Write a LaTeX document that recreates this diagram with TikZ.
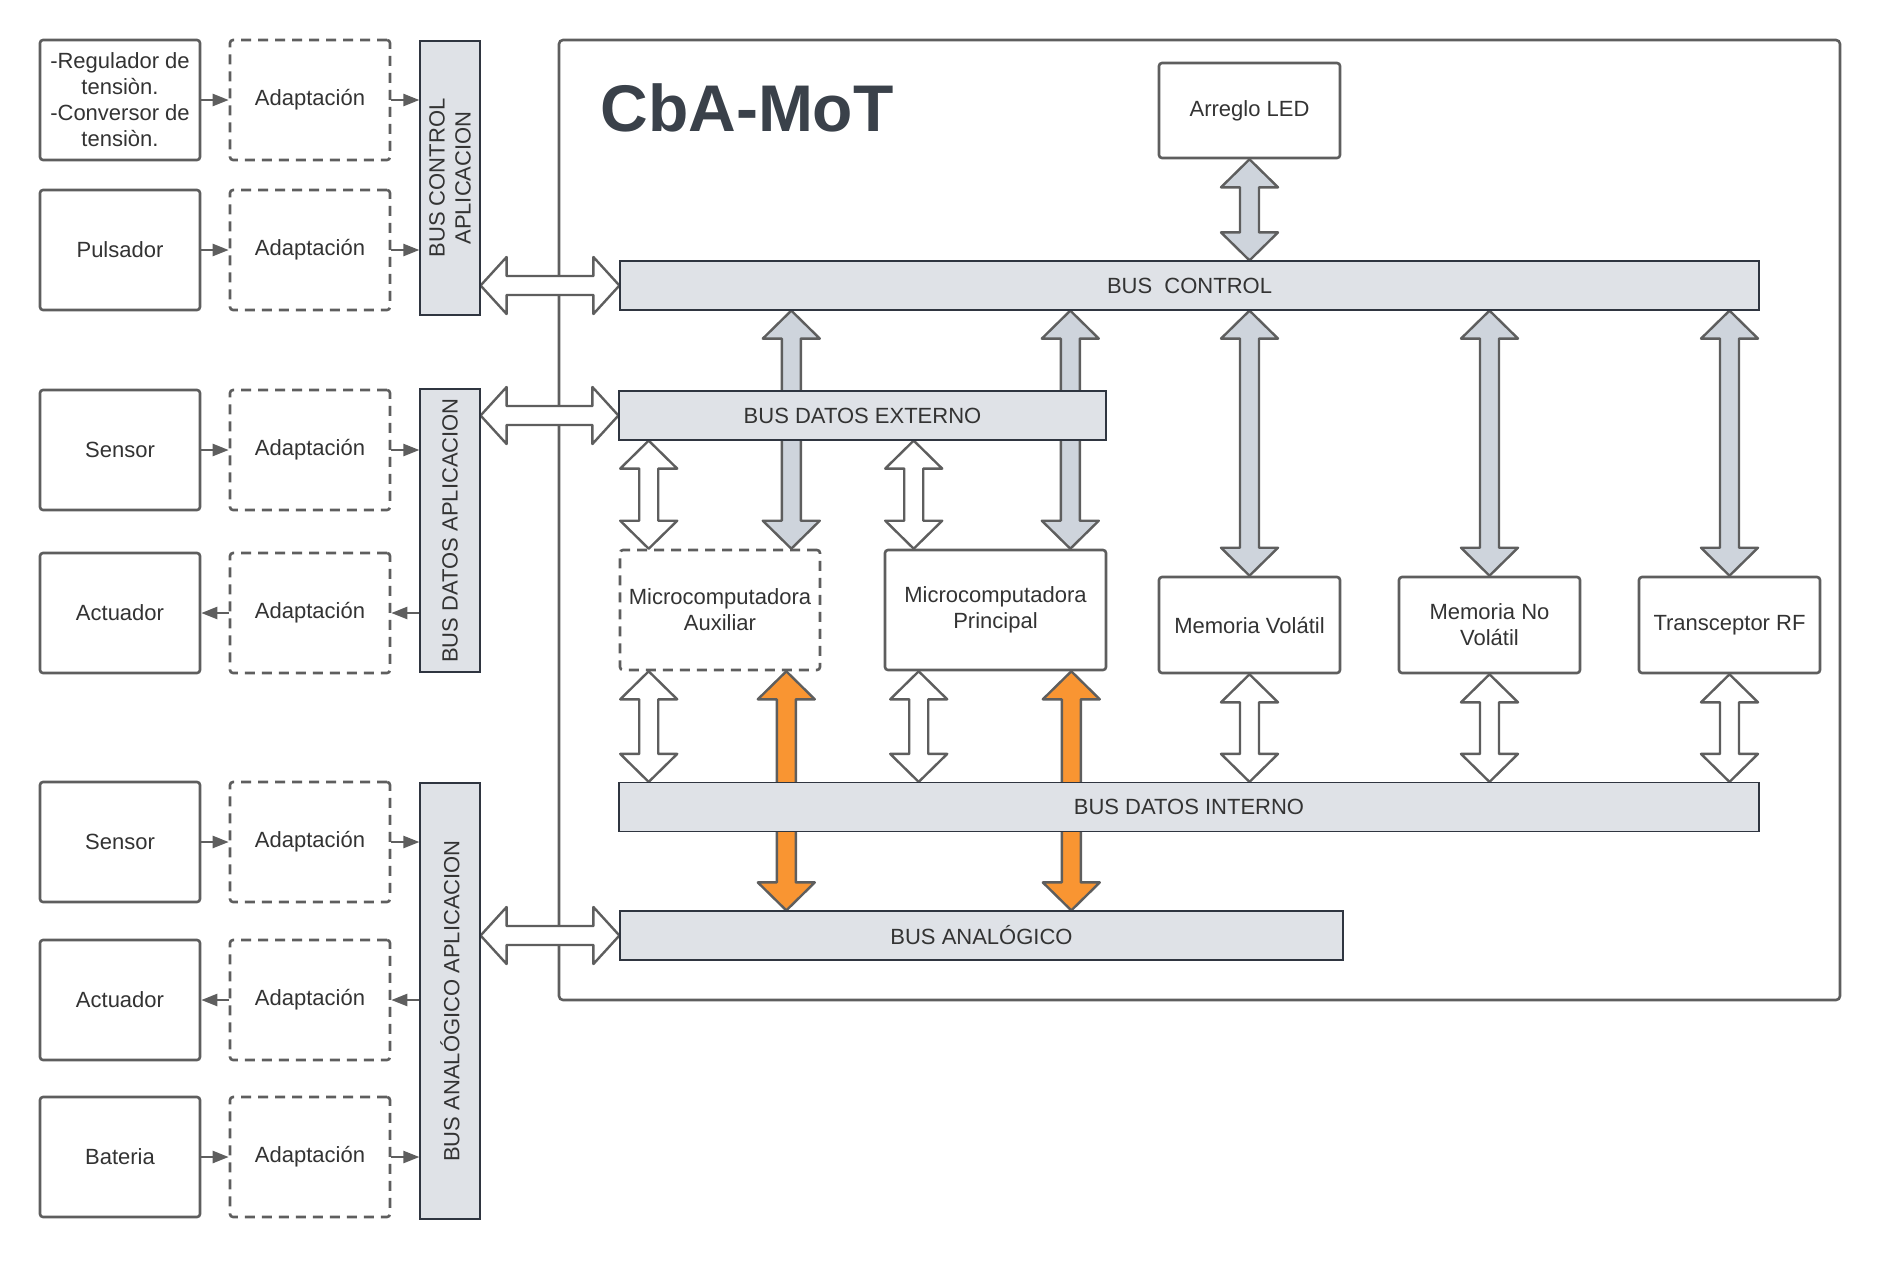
\documentclass[tikz,border=0pt]{standalone}
\usepackage{fontspec}
\setmainfont{Liberation Sans}
\usepackage{tikz}
\usetikzlibrary{arrows.meta,positioning,calc}
\usepackage{xcolor}
\definecolor{lineGrayColor}{HTML}{5E5E5E}
\definecolor{busFillColor}{HTML}{DFE2E7}
\definecolor{busLineColor}{HTML}{2F3540}
\definecolor{grayArrowColor}{HTML}{CED4DC}
\definecolor{orangeArrowColor}{HTML}{F99532}
\definecolor{titleColor}{HTML}{3A414A}
\definecolor{textColor}{HTML}{333333}
\pgfdeclarelayer{background}
\pgfsetlayers{background,main}
\tikzset{
  boxNode/.style = {align=center, inner sep=0pt, text centered, text=textColor,
    font=\fontsize{11}{13}\selectfont},
  deviceNode/.style = {boxNode, rectangle, rounded corners=1.5pt, draw=lineGrayColor, line width=1.3pt, fill=white, minimum width=80pt, minimum height=60pt},% dispositivo
  adaptNode/.style = {deviceNode, dash pattern=on 5pt off 3.5pt},% bloque punteado
  busNode/.style = {boxNode, rectangle, draw=busLineColor, line width=0.6pt, fill=busFillColor, minimum height=24.5pt},% bus horizontal
  vbusNode/.style = {busNode, minimum width=30pt},% bus vertical de aplicacion
  titleNode/.style = {inner sep=0pt, text=titleColor, font=\fontsize{33}{36}\selectfont\bfseries},
  smallArrow/.style = {draw=lineGrayColor, line width=1.2pt, ->},
  frameLine/.style = {draw=lineGrayColor, line width=1.3pt, rounded corners=2pt},
  blockArrow/.style = {draw=lineGrayColor, line width=1.2pt, line join=round},
  whiteArrow/.style = {blockArrow, fill=white},
  grayArrow/.style = {blockArrow, fill=grayArrowColor},
  orangeArrow/.style = {blockArrow, fill=orangeArrowColor},
}
% flecha de bloque vertical: estilo, referencia x, punta arriba, punta abajo
\newcommand{\vBusArrow}[4]{%
  \draw[#1] let \p1=(#2), \p2=(#3), \p3=(#4) in
    (\x1,\y2) -- (\x1+14.25pt,\y2-14pt) -- (\x1+4.75pt,\y2-14pt) -- (\x1+4.75pt,\y3+14pt)
    -- (\x1+14.25pt,\y3+14pt) -- (\x1,\y3) -- (\x1-14.25pt,\y3+14pt) -- (\x1-4.75pt,\y3+14pt)
    -- (\x1-4.75pt,\y2-14pt) -- (\x1-14.25pt,\y2-14pt) -- cycle;
}
% flecha de bloque horizontal: estilo, referencia y, punta izquierda, punta derecha
\newcommand{\hBusArrow}[4]{%
  \draw[#1] let \p1=(#2), \p2=(#3), \p3=(#4) in
    (\x2,\y1) -- (\x2+13pt,\y1+14.25pt) -- (\x2+13pt,\y1+4.75pt) -- (\x3-13pt,\y1+4.75pt)
    -- (\x3-13pt,\y1+14.25pt) -- (\x3,\y1) -- (\x3-13pt,\y1-14.25pt) -- (\x3-13pt,\y1-4.75pt)
    -- (\x2+13pt,\y1-4.75pt) -- (\x2+13pt,\y1-14.25pt) -- cycle;
}

\begin{document}
\begin{tikzpicture}[x=0.5pt, y=-0.5pt, >={Triangle[length=8pt,width=6pt]}]
\useasboundingbox (0,0) rectangle (1880,1260);

% entradas y salidas externas
\node [deviceNode] (reg) at (120,100) {-Regulador de\\tensiòn.\\-Conversor de\\tensiòn.};
\node [adaptNode, right=13.7pt of reg] (adReg) {Adaptación};
\node [deviceNode] (pul) at (120,250) {Pulsador};
\node [adaptNode, right=13.7pt of pul] (adPul) {Adaptación};
\node [deviceNode] (sen1) at (120,450) {Sensor};
\node [adaptNode, right=13.7pt of sen1] (adSen1) {Adaptación};
\node [deviceNode] (act1) at (120,613) {Actuador};
\node [adaptNode, right=13.7pt of act1] (adAct1) {Adaptación};
\node [deviceNode] (sen2) at (120,842) {Sensor};
\node [adaptNode, right=13.7pt of sen2] (adSen2) {Adaptación};
\node [deviceNode] (act2) at (120,1000) {Actuador};
\node [adaptNode, right=13.7pt of act2] (adAct2) {Adaptación};
\node [deviceNode] (bat) at (120,1157) {Bateria};
\node [adaptNode, right=13.7pt of bat] (adBat) {Adaptación};

% buses de aplicacion
\node [vbusNode, minimum height=137pt, label={[rotate=90, boxNode]center:BUS CONTROL\\APLICACION}] (ctlApl) at (450,178) {};
\node [vbusNode, minimum height=141.5pt, label={[rotate=90, boxNode]center:BUS DATOS APLICACION}] (datApl) at (450,530.5) {};
\node [vbusNode, minimum height=218pt, label={[rotate=90, boxNode]center:BUS ANALÓGICO APLICACION}] (anaApl) at (450,1001) {};

\draw[smallArrow] (reg.east) -- (adReg.west);
\draw[smallArrow] (adReg.east) -- (ctlApl.west |- adReg.east);
\draw[smallArrow] (pul.east) -- (adPul.west);
\draw[smallArrow] (adPul.east) -- (ctlApl.west |- adPul.east);
\draw[smallArrow] (sen1.east) -- (adSen1.west);
\draw[smallArrow] (adSen1.east) -- (datApl.west |- adSen1.east);
\draw[smallArrow] (datApl.west |- adAct1.east) -- (adAct1.east);
\draw[smallArrow] (adAct1.west) -- (act1.east);
\draw[smallArrow] (sen2.east) -- (adSen2.west);
\draw[smallArrow] (adSen2.east) -- (anaApl.west |- adSen2.east);
\draw[smallArrow] (anaApl.west |- adAct2.east) -- (adAct2.east);
\draw[smallArrow] (adAct2.west) -- (act2.east);
\draw[smallArrow] (bat.east) -- (adBat.west);
\draw[smallArrow] (adBat.east) -- (anaApl.west |- adBat.east);

% placa CbA-MoT
\node [titleNode, anchor=base west] (title) at (600,131) {CbA-MoT};
\node [deviceNode, minimum width=90.5pt, minimum height=47.5pt] (led) at (1249.5,110.5) {Arreglo LED};
\node [busNode, minimum width=569.5pt] (bctl) at (1189.5,285.5) {BUS\ \ CONTROL};
\node [busNode, minimum width=243.5pt] (bext) at (862.5,415.5) {BUS DATOS EXTERNO};
\node [adaptNode, minimum width=100pt] (aux) at (720,610) {Microcomputadora\\Auxiliar};
\node [deviceNode, minimum width=110.5pt] (prin) at (995.5,610) {Microcomputadora\\Principal};
\node [deviceNode, minimum width=90.5pt, minimum height=48pt] (memv) at (1249.5,625) {Memoria Volátil};
\node [deviceNode, minimum width=90.5pt, minimum height=48pt] (memnv) at (1489.5,625) {Memoria No\\Volátil};
\node [deviceNode, minimum width=90.5pt, minimum height=48pt] (rf) at (1729.5,625) {Transceptor RF};
\node [busNode, minimum width=570pt] (bint) at (1189,807) {BUS DATOS INTERNO};
\node [busNode, minimum width=361.5pt] (bana) at (981.5,935.5) {BUS ANALÓGICO};

\begin{pgfonlayer}{background}
\draw[frameLine] (559,40) rectangle (1840,1000);
\hBusArrow{whiteArrow}{bctl.west}{ctlApl.east}{bctl.west}
\hBusArrow{whiteArrow}{bext.west}{datApl.east}{bext.west}
\hBusArrow{whiteArrow}{bana.west}{anaApl.east}{bana.west}
\vBusArrow{grayArrow}{led.south}{led.south}{bctl.north}
\vBusArrow{grayArrow}{$(aux.north east)+(-15pt,0)$}{bctl.south}{aux.north}
\vBusArrow{grayArrow}{$(prin.north east)+(-18.5pt,0)$}{bctl.south}{prin.north}
\vBusArrow{grayArrow}{memv.north}{bctl.south}{memv.north}
\vBusArrow{grayArrow}{memnv.north}{bctl.south}{memnv.north}
\vBusArrow{grayArrow}{rf.north}{bctl.south}{rf.north}
\vBusArrow{whiteArrow}{$(aux.north west)+(15pt,0)$}{bext.south}{aux.north}
\vBusArrow{whiteArrow}{$(prin.north west)+(15pt,0)$}{bext.south}{prin.north}
\vBusArrow{whiteArrow}{$(aux.south west)+(15pt,0)$}{aux.south}{bint.north}
\vBusArrow{whiteArrow}{$(prin.south west)+(17.5pt,0)$}{prin.south}{bint.north}
\vBusArrow{whiteArrow}{memv.south}{memv.south}{bint.north}
\vBusArrow{whiteArrow}{memnv.south}{memnv.south}{bint.north}
\vBusArrow{whiteArrow}{rf.south}{rf.south}{bint.north}
\vBusArrow{orangeArrow}{$(aux.south east)+(-17.5pt,0)$}{aux.south}{bana.north}
\vBusArrow{orangeArrow}{$(prin.south east)+(-18pt,0)$}{prin.south}{bana.north}
\end{pgfonlayer}
\end{tikzpicture}
\end{document}
